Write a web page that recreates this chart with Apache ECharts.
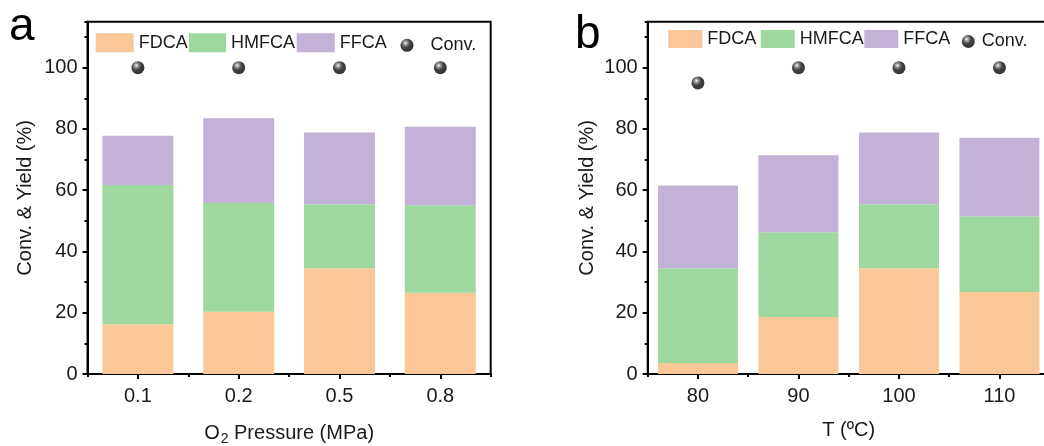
<!DOCTYPE html>
<html>
<head>
<meta charset="utf-8">
<script src="https://cdn.jsdelivr.net/npm/echarts@6/dist/echarts.min.js"></script>
<style>
html,body{margin:0;padding:0;background:#fff;}
#chart{width:1044px;height:446px;}
</style>
</head>
<body>
<div id="chart"></div>
<script>
// ---- data ----
const pressureLabels = ['0.1', '0.2', '0.5', '0.8'];
const tempLabels = ['80', '90', '100', '110'];
// panel a (O2 pressure) – stacked increments
const fdcaA = [16.2, 20.3, 34.5, 26.5];
const hmfcaA = [45.5, 35.5, 20.9, 28.6];
const ffcaA = [16.1, 27.7, 23.4, 25.6];
const convA = [100, 100, 100, 100];
// panel b (temperature) – stacked increments
const fdcaB = [3.6, 18.6, 34.5, 26.8];
const hmfcaB = [30.9, 27.7, 20.9, 24.7];
const ffcaB = [27.0, 25.1, 23.4, 25.6];
const convB = [95, 100, 100, 100];
const seriesNames = ['FDCA', 'HMFCA', 'FFCA', 'Conv.'];

// ---- style ----
const FONT = '"Liberation Sans", Arial, Helvetica, sans-serif';
const C_FDCA = '#FAC898';
const C_HMFCA = '#9ED89E';
const C_FFCA = '#C3B1D7';
const sphere = {
  type: 'radial', x: 0.38, y: 0.33, r: 0.72,
  colorStops: [
    {offset: 0, color: '#ffffff'},
    {offset: 0.18, color: '#888'},
    {offset: 0.5, color: '#111'},
    {offset: 1, color: '#000'}
  ]
};
const TXT = '#1a1a1a';

function mainX(data, gridIndex, name) {
  return {
    type: 'category', gridIndex: gridIndex, data: data, position: 'bottom',
    axisLine: {show: true, lineStyle: {color: '#000', width: 2}},
    axisTick: {show: true, alignWithLabel: true, inside: false, length: 5, lineStyle: {color: '#000', width: 2}},
    axisLabel: {color: TXT, fontSize: 20, fontFamily: FONT, margin: 12},
    name: name, nameLocation: 'middle', nameGap: 46,
    nameTextStyle: {color: TXT, fontSize: 20, fontFamily: FONT,
      rich: {
        n: {fontSize: 20, fontFamily: FONT, color: TXT},
        s: {fontSize: 14, fontFamily: FONT, color: TXT, padding: [12, 0, 0, 1]}
      }},
    splitLine: {show: false}
  };
}
function minorX(data, gridIndex) {
  return {
    type: 'category', gridIndex: gridIndex, data: data, position: 'bottom',
    axisLine: {show: false},
    axisTick: {show: true, alignWithLabel: false, inside: false, length: 3, lineStyle: {color: '#000', width: 2}},
    axisLabel: {show: false},
    splitLine: {show: false}
  };
}
function mainY(gridIndex, gap) {
  return {
    type: 'value', gridIndex: gridIndex, min: 0, max: 115, interval: 20, position: 'left',
    axisLine: {show: true, lineStyle: {color: '#000', width: 2}},
    axisTick: {show: true, inside: false, length: 5, lineStyle: {color: '#000', width: 2}},
    axisLabel: {color: TXT, fontSize: 20, fontFamily: FONT, margin: 10, showMaxLabel: false},
    splitLine: {show: false},
    name: 'Conv. & Yield (%)', nameLocation: 'middle', nameGap: gap,
    nameTextStyle: {color: TXT, fontSize: 20, fontFamily: FONT}
  };
}
function minorY(gridIndex) {
  return {
    type: 'value', gridIndex: gridIndex, min: 0, max: 115, interval: 10, position: 'left',
    axisLine: {show: false},
    axisTick: {show: true, inside: false, length: 3, lineStyle: {color: '#000', width: 2}},
    axisLabel: {show: false},
    splitLine: {show: false}
  };
}
function bars(name, data, color, xi, yi, stack, width) {
  return {
    name: name, type: 'bar', stack: stack, xAxisIndex: xi, yAxisIndex: yi,
    data: data, barWidth: width, itemStyle: {color: color},
    emphasis: {disabled: true}, animation: false
  };
}
function conv(data, xi, yi) {
  return {
    name: 'Conv.', type: 'scatter', xAxisIndex: xi, yAxisIndex: yi,
    data: data, symbol: 'circle', symbolSize: 13, itemStyle: {color: sphere},
    z: 5, animation: false
  };
}
function legendItem(name, left, top, w, h, extraPad) {
  return {
    data: [{name: name, icon: name === 'Conv.' ? 'circle' : 'rect'}],
    left: left, top: top, padding: 0, itemWidth: w, itemHeight: h,
    selectedMode: false,
    textStyle: {color: TXT, fontSize: 18, fontFamily: FONT, padding: [0, 0, 0, extraPad || 0]}
  };
}

const option = {
  backgroundColor: '#fff',
  animation: false,
  grid: [
    {left: 87.5, top: 21.7, width: 403.2, height: 352.3, show: true, borderColor: '#000', borderWidth: 2,
     backgroundColor: 'transparent', containLabel: false, outerBoundsMode: 'none'},
    {left: 647.7, top: 21.7, width: 402, height: 352.3, show: true, borderColor: '#000', borderWidth: 2,
     backgroundColor: 'transparent', containLabel: false, outerBoundsMode: 'none'}
  ],
  xAxis: [
    mainX(pressureLabels, 0, '{n|O}{s|2}{n| Pressure (MPa)}'),
    minorX(pressureLabels, 0),
    mainX(tempLabels, 1, 'T (ºC)'),
    minorX(tempLabels, 1)
  ],
  yAxis: [mainY(0, 52), minorY(0), mainY(1, 50), minorY(1)],
  legend: [
    legendItem('FDCA', 95.7, 33.3, 38, 19),
    legendItem('HMFCA', 189, 33.3, 37, 19),
    legendItem('FFCA', 296.7, 33.3, 38, 19),
    legendItem('Conv.', 400.5, 36.3, 13, 13, 12),
    legendItem('FDCA', 668.3, 30, 34, 18),
    legendItem('HMFCA', 760.7, 30, 34, 18),
    legendItem('FFCA', 864.3, 30, 34, 18),
    legendItem('Conv.', 961.8, 32.5, 13, 13, 2)
  ],
  series: [
    bars('FDCA', fdcaA, C_FDCA, 0, 0, 'a', 71),
    bars('HMFCA', hmfcaA, C_HMFCA, 0, 0, 'a', 71),
    bars('FFCA', ffcaA, C_FFCA, 0, 0, 'a', 71),
    conv(convA, 0, 0),
    bars('FDCA', fdcaB, C_FDCA, 2, 2, 'b', 80),
    bars('HMFCA', hmfcaB, C_HMFCA, 2, 2, 'b', 80),
    bars('FFCA', ffcaB, C_FFCA, 2, 2, 'b', 80),
    conv(convB, 2, 2)
  ],
  graphic: [
    {type: 'text', left: 9, top: 4, style: {text: 'a', fontSize: 46, fontFamily: FONT, fill: '#000'}},
    {type: 'text', left: 575, top: 12, style: {text: 'b', fontSize: 46, fontFamily: FONT, fill: '#000'}}
  ]
};

const chart = echarts.init(document.getElementById('chart'), null, {renderer: 'canvas'});
chart.setOption(option);
</script>
</body>
</html>
